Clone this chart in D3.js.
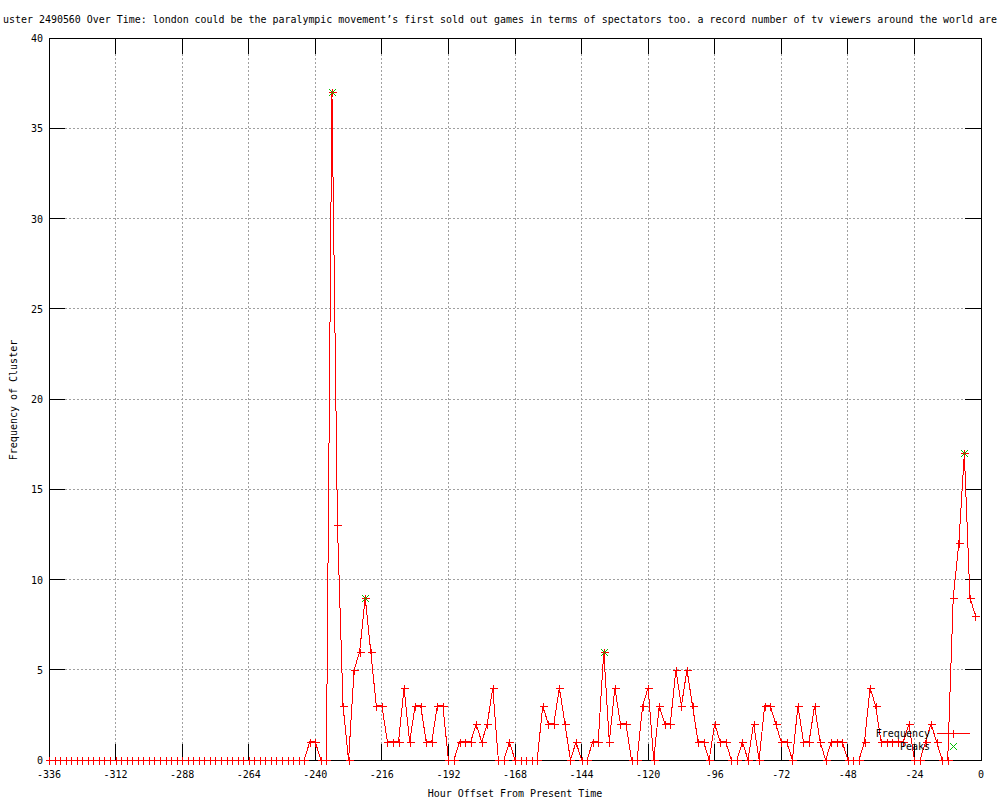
<!DOCTYPE html>
<html>
<head>
<meta charset="utf-8">
<script src="https://cdn.jsdelivr.net/npm/d3@7"></script>
<style>
  body { margin: 0; background: #fff; }
  text { font-family: "DejaVu Sans Mono", monospace; font-size: 10px; fill: #000; }
</style>
</head>
<body>
<svg id="chart" width="1000" height="800"></svg>
<script>
// title is cut off on both sides in the original image
const titleText = "uster 2490560 Over Time: london could be the paralympic movement\u2019s first sold out games in terms of spectators too. a record number of tv viewers around the world are";

// hour offsets, one bin every 2 hours
const hours = d3.range(-336, 0, 2);
// cluster frequency per bin
const frequency = [
  0,0,0,0,0,0,0,0,0,0, 0,0,0,0,0,0,0,0,0,0,
  0,0,0,0,0,0,0,0,0,0, 0,0,0,0,0,0,0,0,0,0,
  0,0,0,0,0,0,0,
  1,1,0,0,37,13,3,0,5,6,9,6,3,3,1,1,1,4,1,3,3,1,1,3,3,0,0,
  1,1,1,2,1,2,4,0,0,1,0,0,0,0,0,3,2,2,4,2,0,1,0,0,1,1,6,1,4,2,2,0,0,
  3,4,0,3,2,2,5,3,5,3,1,1,0,2,1,1,0,0,1,0,2,0,3,3,2,1,1,0,3,1,1,3,1,0,
  1,1,1,0,0,0,1,4,3,1,1,1,1,1,2,0,0,1,2,1,0,0,9,12,17,9,8
];
// detected peaks
const peakHours = [-234, -222, -136, -6];

const xTicks = [-336, -312, -288, -264, -240, -216, -192, -168, -144, -120, -96, -72, -48, -24, 0];
const yTicks = [0, 5, 10, 15, 20, 25, 30, 35, 40];

const margin = {left: 49, right: 19, top: 38, bottom: 40};
const W = 1000, H = 800;
const svg = d3.select("#chart");

const x = d3.scaleLinear().domain([-336, 0]).range([margin.left, W - margin.right]);
const y = d3.scaleLinear().domain([0, 40]).range([H - margin.bottom, margin.top]);
const tickLen = 16;

//grid
const grid = svg.append("g").attr("stroke", "#a0a0a0").attr("stroke-dasharray", "2,2").attr("shape-rendering", "crispEdges");
grid.selectAll(".gx").data(xTicks.slice(1, -1)).enter().append("line")
  .attr("x1", d => x(d)).attr("x2", d => x(d))
  .attr("y1", y(0) - tickLen).attr("y2", y(40) + tickLen);
grid.selectAll(".gy").data(yTicks.slice(1, -1)).enter().append("line")
  .attr("y1", d => y(d)).attr("y2", d => y(d))
  .attr("x1", x(-336) + tickLen).attr("x2", x(0) - tickLen);

//frame + ticks
const frame = svg.append("g").attr("stroke", "#000").attr("shape-rendering", "crispEdges");
frame.append("rect")
  .attr("x", x(-336)).attr("y", y(40))
  .attr("width", x(0) - x(-336)).attr("height", y(0) - y(40))
  .attr("fill", "none");
xTicks.forEach(t => {
  frame.append("line").attr("x1", x(t)).attr("x2", x(t)).attr("y1", y(0)).attr("y2", y(0) - tickLen);
  frame.append("line").attr("x1", x(t)).attr("x2", x(t)).attr("y1", y(40)).attr("y2", y(40) + tickLen);
});
yTicks.forEach(t => {
  frame.append("line").attr("y1", y(t)).attr("y2", y(t)).attr("x1", x(-336)).attr("x2", x(-336) + tickLen);
  frame.append("line").attr("y1", y(t)).attr("y2", y(t)).attr("x1", x(0)).attr("x2", x(0) - tickLen);
});

//tick labels
svg.append("g").selectAll("text").data(xTicks).enter().append("text")
  .attr("x", d => x(d)).attr("y", y(0) + 18)
  .attr("text-anchor", "middle")
  .text(d => d);
svg.append("g").selectAll("text").data(yTicks).enter().append("text")
  .attr("x", x(-336) - 6).attr("y", d => y(d) + 4)
  .attr("text-anchor", "end")
  .text(d => d);

//axis titles
svg.append("text").attr("x", 515).attr("y", 797).attr("text-anchor", "middle").text("Hour Offset From Present Time");
svg.append("text").attr("transform", "translate(17,400) rotate(-90)").attr("text-anchor", "middle").text("Frequency of Cluster");

svg.append("text").attr("x", 3).attr("y", 23).attr("textLength", 994).attr("lengthAdjust", "spacingAndGlyphs").text(titleText);

//frequency line
const pts = hours.map((h, i) => [h, frequency[i]]);
svg.append("path")
  .datum(pts)
  .attr("fill", "none").attr("stroke", "#ff0000").attr("stroke-width", 1)
  .attr("shape-rendering", "crispEdges")
  .attr("d", d3.line().x(d => x(d[0])).y(d => y(d[1])));

function plus(g, cx, cy, r, col) {
  g.append("path")
    .attr("d", `M${cx - r},${cy}H${cx + r}M${cx},${cy - r}V${cy + r}`)
    .attr("stroke", col).attr("fill", "none").attr("shape-rendering", "crispEdges");
}
function cross(g, cx, cy, r, col) {
  g.append("path")
    .attr("d", `M${cx - r},${cy - r}L${cx + r},${cy + r}M${cx - r},${cy + r}L${cx + r},${cy - r}`)
    .attr("stroke", col).attr("fill", "none").attr("shape-rendering", "crispEdges");
}

const marks = svg.append("g");
pts.forEach(d => plus(marks, Math.round(x(d[0])) + 0.5, Math.round(y(d[1])) + 0.5, 4, "#ff0000"));

const peakG = svg.append("g");
peakHours.forEach(h => {
  const v = frequency[hours.indexOf(h)];
  cross(peakG, Math.round(x(h)) + 0.5, Math.round(y(v)) + 0.5, 3.5, "#00c000");
});

//legend
const lg = svg.append("g");
lg.append("text").attr("x", 930).attr("y", 737).attr("text-anchor", "end").text("Frequency");
lg.append("line").attr("x1", 937).attr("x2", 970).attr("y1", 733.5).attr("y2", 733.5)
  .attr("stroke", "#ff0000").attr("shape-rendering", "crispEdges");
plus(lg, 953.5, 733.5, 4, "#ff0000");
lg.append("text").attr("x", 930).attr("y", 750).attr("text-anchor", "end").text("Peaks");
cross(lg, 953.5, 746.5, 3.5, "#00c000");
</script>
</body>
</html>
